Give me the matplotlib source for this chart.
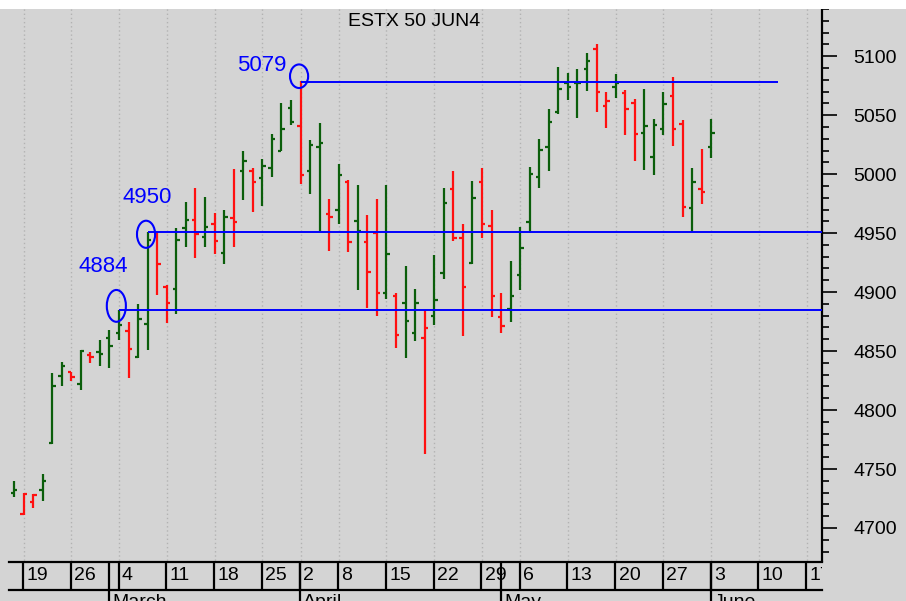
import pandas as pd
import matplotlib
matplotlib.use('Agg')
import matplotlib.pyplot as plt
from matplotlib.patches import Ellipse, Rectangle

plt.rcParams['font.family'] = ['Liberation Sans', 'DejaVu Sans']

# Eurex trading calendar (holidays skipped on the x axis)
holidays = ['2024-03-29', '2024-04-01', '2024-05-01']
calendar = pd.bdate_range('2024-02-16', '2024-06-28').drop(pd.to_datetime(holidays))

# daily OHLC, ESTX 50 June 2024 future
opens = [4730, 4712, 4722, 4732, 4772, 4829, 4832, 4822, 4846.5, 4849,
         4861, 4865, 4867, 4845, 4873, 4949.5, 4904.5, 4903, 4954, 4961,
         4946.5, 4958, 4933.5, 4962.5, 5002.5, 5002.5, 4996.5, 5005, 5020, 5056,
         5041, 5002.5, 5023, 4966.5, 4969.5, 4993.5, 4960.5, 4942.5, 4950, 4899.5,
         4896.5, 4890.5, 4865.5, 4861, 4880, 4916, 4987, 4946, 4925, 4993.5,
         4956, 4878.5, 4885.5, 4914.5, 4959, 4997.5, 5023, 5053, 5077.5, 5077,
         5089, 5106.5, 5057.5, 5074, 5068.5, 5060.5, 5035, 5014.5, 5038.5, 5066.5,
         5042.5, 4971.5, 4987, 5023]
highs = [4740, 4729.5, 4729, 4746, 4831, 4841, 4832.5, 4851, 4849.5, 4859,
         4868, 4884.5, 4875, 4890, 4951, 4951, 4906, 4954, 4976.5, 4988,
         4981, 4967, 4970, 5004, 5020, 5005.5, 5013, 5034, 5060, 5062.5,
         5079, 5029, 5043, 4979, 5009, 4995, 4990.5, 4965, 4979, 4990.5,
         4899.5, 4922, 4903, 4885, 4931.5, 4988, 5003, 4958, 4994, 5005.5,
         4970, 4899.5, 4926.5, 4955, 5006, 5029.5, 5055, 5091, 5086, 5089.5,
         5103, 5110, 5069.5, 5084.5, 5071, 5063.5, 5072.5, 5047, 5069.5, 5082,
         5046, 5005.5, 5021, 5047]
lows = [4726, 4711, 4717, 4723, 4771, 4820, 4825, 4817, 4839.5, 4837.5,
        4836, 4859, 4827, 4844, 4851, 4897.5, 4873.5, 4881, 4938, 4928.5,
        4938, 4932, 4924, 4938, 4978, 4967.5, 4973, 4997.5, 5019.5, 5041.5,
        4991.5, 4983.5, 4952, 4935, 4958, 4934, 4901.5, 4886.5, 4879.5, 4894.5,
        4853, 4844, 4858.5, 4763, 4872, 4911, 4943.5, 4863, 4924, 4945.5,
        4879, 4865, 4875, 4901.5, 4950, 4988.5, 5003, 5051, 5062.5, 5047.5,
        5070.5, 5052.5, 5039, 5064.5, 5033, 5011, 5003.5, 4999, 5033, 5024,
        4963.5, 4951, 4975, 5014]
closes = [4732, 4729, 4728, 4740, 4820, 4837, 4828, 4850, 4845, 4847.5,
          4854.5, 4872, 4852, 4877, 4944, 4923.5, 4890.5, 4944.5, 4961, 4949,
          4955, 4943, 4964, 4959.5, 5011, 4993.5, 5007, 5029.5, 5038, 5044.5,
          4999.5, 5024.5, 5026, 4964, 4999, 4942.5, 4951.5, 4917, 4899.5, 4932,
          4863.5, 4875.5, 4890.5, 4869.5, 4893, 4975.5, 4946, 4904, 4980, 4957.5,
          4896.5, 4871, 4896.5, 4937, 5000, 5020.5, 5044.5, 5072, 5074, 5077.5,
          5096, 5069.5, 5062, 5077, 5055, 5034, 5041, 5041.5, 5059.5, 5038,
          4972.5, 4993.5, 4984.5, 5035]

# hand drawn support / resistance levels
levels = [4884.5, 4951, 5078.5]
level_labels = ['4884', '4950', '5079']
level_start = ['2024-03-04', '2024-03-07', '2024-04-02']
level_end = [None, None, '2024-06-12']

month_names = {3: 'March', 4: 'April', 5: 'May', 6: 'June'}

BG = '#d4d4d4'
GREEN = '#0b5e0b'
RED = '#ff1010'
BLUE = '#0000ff'

pos = {d: i for i, d in enumerate(calendar)}
n = len(closes)
x = list(range(n))
colors = []
for i in range(n):
    prev = closes[i - 1] if i > 0 else opens[0]
    colors.append(GREEN if closes[i] >= prev else RED)

W, H = 906, 601
fig = plt.figure(figsize=(W / 100, H / 100), dpi=100, facecolor=BG)
fig.patches.append(Rectangle((0, 1 - 9 / H), 1, 9 / H, transform=fig.transFigure,
                             facecolor='white', edgecolor='none'))
ax = fig.add_axes([9 / W, 40 / H, 813 / W, 552 / H], facecolor=BG)
ax.set_xlim(-0.52, 84.6)
ax.set_ylim(4672.0, 5139.8)

# weekly grid
week_starts = [i for i in range(len(calendar))
               if i > 0 and calendar[i].weekday() < calendar[i - 1].weekday()]
ax.vlines(week_starts, 4600, 5200, colors='#b2b2b2', linestyles=(0, (1, 2)), lw=1, zorder=1)

# OHLC bars
tw = 0.36
ax.vlines(x, lows, highs, colors=colors, lw=1.6, zorder=3)
ax.hlines(opens, [i - tw for i in x], x, colors=colors, lw=1.6, zorder=3)
ax.hlines(closes, x, [i + tw for i in x], colors=colors, lw=1.6, zorder=3)

# levels
xmax = ax.get_xlim()[1]
for lv, s, e in zip(levels, level_start, level_end):
    xs = pos[pd.Timestamp(s)]
    xe = pos[pd.Timestamp(e)] if e else xmax
    ax.hlines(lv, xs, xe, colors=BLUE, lw=1.4, zorder=4)

ell = [(10.72, 4888.3, 2.0, 27), (13.83, 4949, 1.9, 23), (29.85, 5083, 1.9, 20)]
for cx, cy, ew, eh in ell:
    ax.add_patch(Ellipse((cx, cy), ew, eh, fill=False, ec=BLUE, lw=1.5, zorder=5))

txt = [(9.35, 4922), (13.95, 4980.5), (25.9, 5092.4)]
for (tx, ty), lab in zip(txt, level_labels):
    ax.text(tx, ty, lab, color=BLUE, fontsize=16, ha='center', va='center', zorder=5)

ax.text(414.5 / W, 1 - 21.5 / H, 'ESTX 50 JUN4', transform=fig.transFigure, ha='center',
        va='center', fontsize=14, color='black')

# right price axis
for sp in ['left', 'top', 'bottom']:
    ax.spines[sp].set_visible(False)
ax.spines['right'].set_linewidth(1.6)
ax.yaxis.tick_right()
ax.set_yticks(range(4700, 5101, 50))
ax.set_yticks(range(4680, 5141, 10), minor=True)
ax.tick_params(axis='y', which='major', length=10.5, width=1.2, pad=12, labelsize=14)
ax.tick_params(axis='y', which='minor', length=5, width=1.2)
ax.set_xticks([])

# date strip
ax2 = fig.add_axes([9 / W, 0, 813 / W, 40 / H], facecolor=BG)
ax2.set_xlim(ax.get_xlim())
ax2.set_ylim(0, 40)
ax2.axis('off')
ax2.axhline(39, color='black', lw=1.6, clip_on=False)
ax2.axhline(11, color='black', lw=1.6, clip_on=False)
month_starts = [i for i in range(1, len(calendar))
                if calendar[i].month != calendar[i - 1].month]
ax2.vlines([i - 0.05 for i in week_starts], 11, 39, colors='black', lw=1.6)
ax2.vlines([i - 0.05 for i in month_starts], -5, 39, colors='black', lw=1.6)
for i in week_starts:
    ax2.text(i + 0.3, 25, str(calendar[i].day), fontsize=14, ha='left', va='center',
             clip_on=True)
for i in month_starts:
    ax2.text(i + 0.3, 7, month_names[calendar[i].month], fontsize=14, ha='left', va='top',
             clip_on=True)

fig.savefig('out.png', dpi=100, facecolor=BG)
